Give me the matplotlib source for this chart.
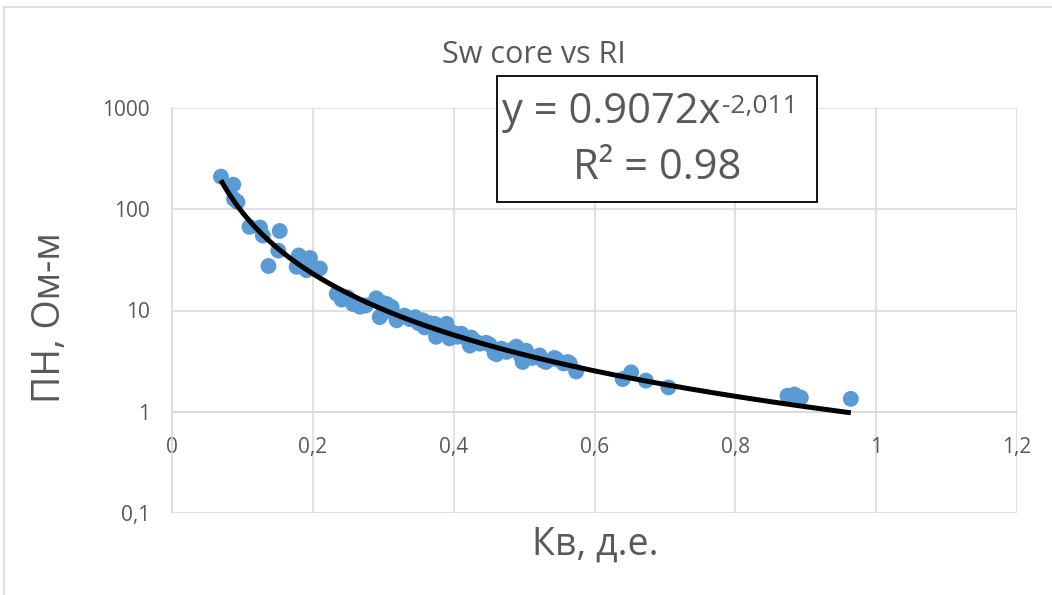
import matplotlib
matplotlib.use("Agg")
import matplotlib.pyplot as plt
import numpy as np
from matplotlib.lines import Line2D
from matplotlib.patches import Rectangle
from matplotlib.text import Annotation
from matplotlib.ticker import FixedLocator, NullLocator

# Sw (core) vs resistivity index
sw = [0.0695, 0.087, 0.088, 0.093, 0.110, 0.125, 0.129, 0.153, 0.137, 0.151,
      0.180, 0.196, 0.177, 0.191, 0.210, 0.234, 0.241, 0.249, 0.257, 0.267,
      0.275, 0.290, 0.298, 0.305, 0.312, 0.295, 0.300, 0.319, 0.323, 0.330,
      0.338, 0.345, 0.350, 0.356, 0.359, 0.366, 0.373, 0.375, 0.380, 0.390,
      0.394, 0.400, 0.405, 0.411, 0.418, 0.423, 0.425, 0.432, 0.437, 0.446,
      0.451, 0.458, 0.461, 0.468, 0.475, 0.483, 0.489, 0.495, 0.503, 0.498,
      0.512, 0.522, 0.527, 0.531, 0.543, 0.546, 0.556, 0.562, 0.565, 0.574,
      0.640, 0.652, 0.673, 0.705, 0.874, 0.884, 0.893, 0.964]
ri = [210, 175, 126, 118, 67, 66, 55, 61, 27.5, 39,
      35, 33, 27, 25, 26, 14.6, 12.8, 13.5, 11.6, 10.9,
      11.2, 13.2, 12.0, 11.6, 10.8, 8.6, 9.5, 8.0, 8.6, 8.9,
      8.2, 8.6, 7.5, 8.0, 6.8, 7.5, 7.4, 5.5, 6.6, 7.4,
      5.3, 6.0, 5.5, 5.9, 5.3, 4.5, 5.4, 4.9, 4.7, 4.8,
      4.6, 3.8, 3.7, 4.2, 3.9, 4.1, 4.4, 3.6, 4.0, 3.1,
      3.4, 3.6, 3.2, 3.1, 3.4, 3.3, 3.0, 3.1, 3.0, 2.5,
      2.1, 2.45, 2.03, 1.74, 1.44, 1.48, 1.38, 1.34]

# power trendline shown on the chart
fit_a = 0.9072
fit_b = -2.011

x_ticks = [0, 0.2, 0.4, 0.6, 0.8, 1.0, 1.2]
x_labels = ["0", "0,2", "0,4", "0,6", "0,8", "1", "1,2"]
y_ticks = [0.1, 1, 10, 100, 1000]
y_labels = ["0,1", "1", "10", "100", "1000"]

FONT = "Open Sans"
TXT = "#595959"
GRID = "#D9D9D9"

plt.rcParams["font.family"] = [FONT, "DejaVu Sans"]

W, H = 1052, 595
fig = plt.figure(figsize=(W / 100, H / 100), dpi=100)
ax = fig.add_axes([172 / W, 1 - 513 / H, (1017 - 172) / W, (513 - 108) / H])

ax.set_yscale("log")
ax.set_xlim(0, 1.2)
ax.set_ylim(0.1, 1000)

ax.xaxis.set_major_locator(FixedLocator(x_ticks))
ax.set_xticklabels(x_labels)
ax.yaxis.set_major_locator(FixedLocator(y_ticks))
ax.yaxis.set_minor_locator(NullLocator())
ax.set_yticklabels(y_labels)

ax.grid(True, color=GRID, linewidth=1.1)
ax.set_axisbelow(True)
for s in ["top", "right"]:
    ax.spines[s].set_visible(False)
ax.spines["left"].set_color(GRID)
ax.spines["left"].set_linewidth(1.1)
ax.spines["bottom"].set_color(GRID)
ax.spines["bottom"].set_linewidth(1.1)
ax.spines["bottom"].set_position(("data", 1))
ax.tick_params(axis="x", length=0, pad=18, labelsize=15, labelcolor=TXT)
ax.tick_params(axis="y", length=0, pad=16, labelsize=15, labelcolor=TXT)

ax.scatter(sw, ri, s=130, color="#5B9BD5", edgecolors="none", zorder=3,
           clip_on=False)

xf = np.linspace(min(sw), max(sw), 300)
ax.plot(xf, fit_a * xf ** fit_b, color="black", linewidth=3.6, zorder=4,
        solid_capstyle="butt")

fig.text(534 / W, 1 - 55 / H, "Sw core vs RI", ha="center", va="center",
         fontsize=22, color=TXT)
fig.text(50 / W, 1 - 318 / H, "ПН, Ом-м", ha="center", va="center",
         rotation=90, fontsize=27, color=TXT)
fig.text(595 / W, 1 - 545 / H, "Кв, д.е.", ha="center", va="center",
         fontsize=27, color=TXT)

# equation box
fig.add_artist(Rectangle((497 / W, 1 - 202 / H), (817 - 497) / W, (202 - 76) / H,
                         transform=fig.transFigure, facecolor="white",
                         edgecolor="black", linewidth=1.3, zorder=5))
t1 = fig.text(502 / W, 1 - 112 / H, "y = 0.9072x", ha="left", va="center",
              fontsize=30, color=TXT, zorder=6)
sup = Annotation("-2,011", xy=(1, 1), xycoords=t1, xytext=(1, -2),
                 textcoords="offset points", ha="left", va="top",
                 fontsize=19, color=TXT, zorder=6)
fig.add_artist(sup)
fig.text(657 / W, 1 - 168 / H, "R² = 0.98", ha="center", va="center",
         fontsize=30, color=TXT, zorder=6)

# outer chart border (left and top visible)
fig.add_artist(Line2D([4 / W, 4 / W], [0, 1 - 7 / H], transform=fig.transFigure,
                      color=GRID, linewidth=1.2))
fig.add_artist(Line2D([4 / W, 1], [1 - 7 / H, 1 - 7 / H],
                      transform=fig.transFigure, color=GRID, linewidth=1.2))

fig.savefig("out.png", dpi=100)
